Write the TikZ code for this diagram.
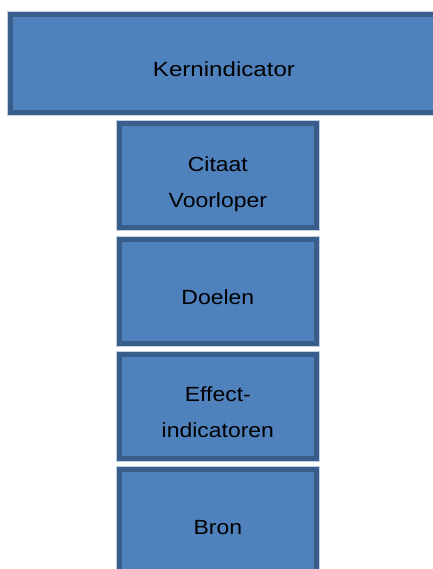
\documentclass[tikz,border=0pt]{standalone}
\usepackage{fontspec}
\setmainfont{Liberation Sans}[FakeStretch=1.12]
\usetikzlibrary{positioning}
\definecolor{vlak}{HTML}{4F81BD}
\definecolor{rand}{HTML}{3A5E8C}
\definecolor{rim}{HTML}{C3D0E2}
\tikzset{
  blok/.style={rectangle, fill=vlak, draw=rand, line width=5pt,
    preaction={draw=rim, line width=7pt}},
  klein/.style={blok, minimum width=197.3pt, minimum height=103.7pt},
  tekst/.style={align=center, text=black, inner sep=0pt,
    text height=15pt, text depth=0pt,
    font=\fontsize{20.5}{36}\selectfont},
  tweeregels/.style={yshift=-18pt}
}
\begin{document}
\begin{tikzpicture}[x=1pt,y=-1pt]
      \useasboundingbox (0,0) rectangle (432,569);
      % Top box, running off the right edge
      \node[blok, minimum width=440pt, minimum height=98pt] (kern) at (230.5,63.5) {};
      \node[tekst] (t-kern) at ([yshift=-5.7pt]kern.center -| 224,0) {\scalebox{1.05}[1]{Kernindicator}};
      % Column of smaller boxes
      \node[klein] (citaat) at (217.85,175.85) {};
      \node[klein, below=6.6pt of citaat] (doelen) {};
      \node[klein, below=6.6pt of doelen] (effect) {};
      \node[klein, below=6.6pt of effect] (bron) {};
      % Their texts
      \node[tekst, tweeregels] (t-citaat) at ([yshift=-5.7pt]citaat.center) {Citaat\\Voorloper};
      \node[tekst] (t-doelen) at ([yshift=-5.7pt]doelen.center) {Doelen};
      \node[tekst, tweeregels] (t-effect) at ([yshift=-5.7pt]effect.center) {Effect-\\indicatoren};
      \node[tekst] (t-bron) at ([yshift=-5.7pt]bron.center) {Bron};
\end{tikzpicture}
\end{document}
